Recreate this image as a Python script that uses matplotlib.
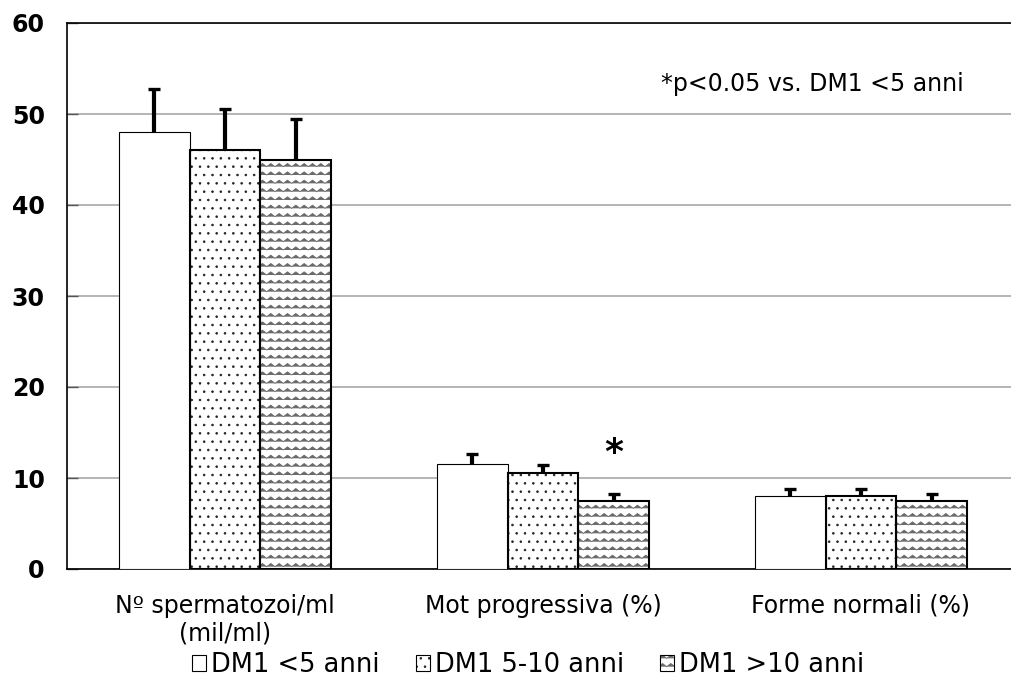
import warnings
warnings.filterwarnings("ignore")
import numpy as np
import matplotlib
matplotlib.use("Agg")
import matplotlib.pyplot as plt
import matplotlib.hatch as mhatch
from matplotlib.path import Path
from matplotlib.patches import Patch
from matplotlib.legend_handler import HandlerBase
from matplotlib.patches import Rectangle

# ---------------- data ----------------
categories = ["Nº spermatozoi/ml\n(mil/ml)", "Mot progressiva (%)", "Forme normali (%)"]
series_names = ["DM1 <5 anni", "DM1 5-10 anni", "DM1 >10 anni"]
means_lt5 = [48.0, 11.5, 8.0]
means_5_10 = [46.0, 10.5, 8.0]
means_gt10 = [45.0, 7.5, 7.5]
err_lt5 = [4.7, 1.1, 0.8]
err_5_10 = [4.6, 0.9, 0.8]
err_gt10 = [4.5, 0.7, 0.7]
yticks = [0, 10, 20, 30, 40, 50, 60]
note_text = "*p<0.05 vs. DM1 <5 anni"
star_group = 1
star_series = 2


# ------------- custom zigzag hatch -------------
class ZigZagHatch(mhatch.HatchPatternBase):
    def __init__(self, hatch, density):
        n = hatch.count('z')
        self.rows = int(n * density)
        self.zigs = int(n * density)
        self.pts = 2 * self.zigs + 1
        self.num_vertices = self.rows * self.pts if n else 0

    def set_vertices_and_codes(self, vertices, codes):
        idx = 0
        xs = np.linspace(0, 1, self.pts)
        amp = 0.38 / self.rows
        for r in range(self.rows):
            y0 = r / self.rows
            ys = y0 + amp * (np.arange(self.pts) % 2)
            vertices[idx:idx + self.pts, 0] = xs
            vertices[idx:idx + self.pts, 1] = ys
            codes[idx] = Path.MOVETO
            codes[idx + 1:idx + self.pts] = Path.LINETO
            idx += self.pts


mhatch._hatch_types.append(ZigZagHatch)

plt.rcParams['font.family'] = ['DejaVu Sans']
plt.rcParams['hatch.linewidth'] = 0.6

fig = plt.figure(figsize=(10.12, 6.88), dpi=100)
ax = fig.add_axes([67 / 1012, 1 - 569 / 688, 1 - 67 / 1012, (569 - 23) / 688])

x = np.arange(len(categories))
w = 0.223
series = [means_lt5, means_5_10, means_gt10]
errs = [err_lt5, err_5_10, err_gt10]
hatches = ['', '..', 'zz']
hatch_colors = ['black', '#222222', '#6a6a6a']
lws = [0.8, 1.5, 1.5]

for i, (vals, er) in enumerate(zip(series, errs)):
    pos = x + (i - 1) * w
    vals = np.asarray(vals)
    er = np.asarray(er)
    # fill + hatch (hatch colour comes from edgecolor)
    ax.bar(pos, vals, width=w, color='white', edgecolor=hatch_colors[i],
           linewidth=0, hatch=hatches[i], zorder=3)
    # outline
    ax.bar(pos, vals, width=w, fill=False, edgecolor='black',
           linewidth=lws[i], zorder=3.5)
    ax.errorbar(pos, vals, yerr=[np.zeros(len(er)), er], fmt='none',
                ecolor='black', elinewidth=3, capsize=0, zorder=4)
    ax.plot(pos, vals + er, ls='none', marker='_', markersize=8,
            markeredgewidth=2.4, color='black', zorder=5)

# significance star
sx = x[star_group] + (star_series - 1) * w
sy = series[star_series][star_group] + errs[star_series][star_group]
ax.text(sx, sy + 4.6, "*", ha='center', va='center', fontsize=26,
        fontweight='bold', zorder=5)

ax.text(1.846, 53.3, note_text, ha='center', va='center', fontsize=17)

ax.set_ylim(0, 60)
ax.set_xlim(-0.497, 2.475)
ax.set_yticks(yticks)
ax.set_yticklabels([str(t) for t in yticks], fontsize=17, fontweight='bold')
ax.set_xticks(x)
ax.set_xticklabels(categories, fontsize=17, linespacing=1.2)
ax.tick_params(axis='x', length=0, pad=18)
ax.tick_params(axis='y', direction='in', length=8, width=1, colors='#555555',
               labelcolor='black', pad=16)
ax.yaxis.grid(True, color='#a8a8a8', linewidth=1.2, zorder=0)
ax.set_axisbelow(True)
for s in ['left', 'top', 'bottom']:
    ax.spines[s].set_color('black')
    ax.spines[s].set_linewidth(1.2)
ax.spines['right'].set_visible(False)


class HatchBoxHandler(HandlerBase):
    def __init__(self, hatch, hcolor):
        super().__init__()
        self.hatch = hatch
        self.hcolor = hcolor

    def create_artists(self, legend, orig_handle, xdescent, ydescent,
                       width, height, fontsize, trans):
        r1 = Rectangle((-xdescent, -ydescent), width, height, facecolor='white',
                       edgecolor=self.hcolor, linewidth=0, hatch=self.hatch,
                       transform=trans)
        r2 = Rectangle((-xdescent, -ydescent), width, height, fill=False,
                       edgecolor='black', linewidth=0.8, transform=trans)
        return [r1, r2]


handles = [Patch(facecolor='white', edgecolor='black') for _ in hatches]
hmap = {h: HatchBoxHandler(hatches[i], hatch_colors[i]) for i, h in enumerate(handles)}
fig.legend(handles, series_names, handler_map=hmap, loc='center',
           bbox_to_anchor=(0.522, 1 - 665 / 688),
           ncol=3, frameon=False, fontsize=18.5, handlelength=0.55, handleheight=0.55,
           handletextpad=0.2, columnspacing=1.4)

fig.savefig("out.png", dpi=100)
